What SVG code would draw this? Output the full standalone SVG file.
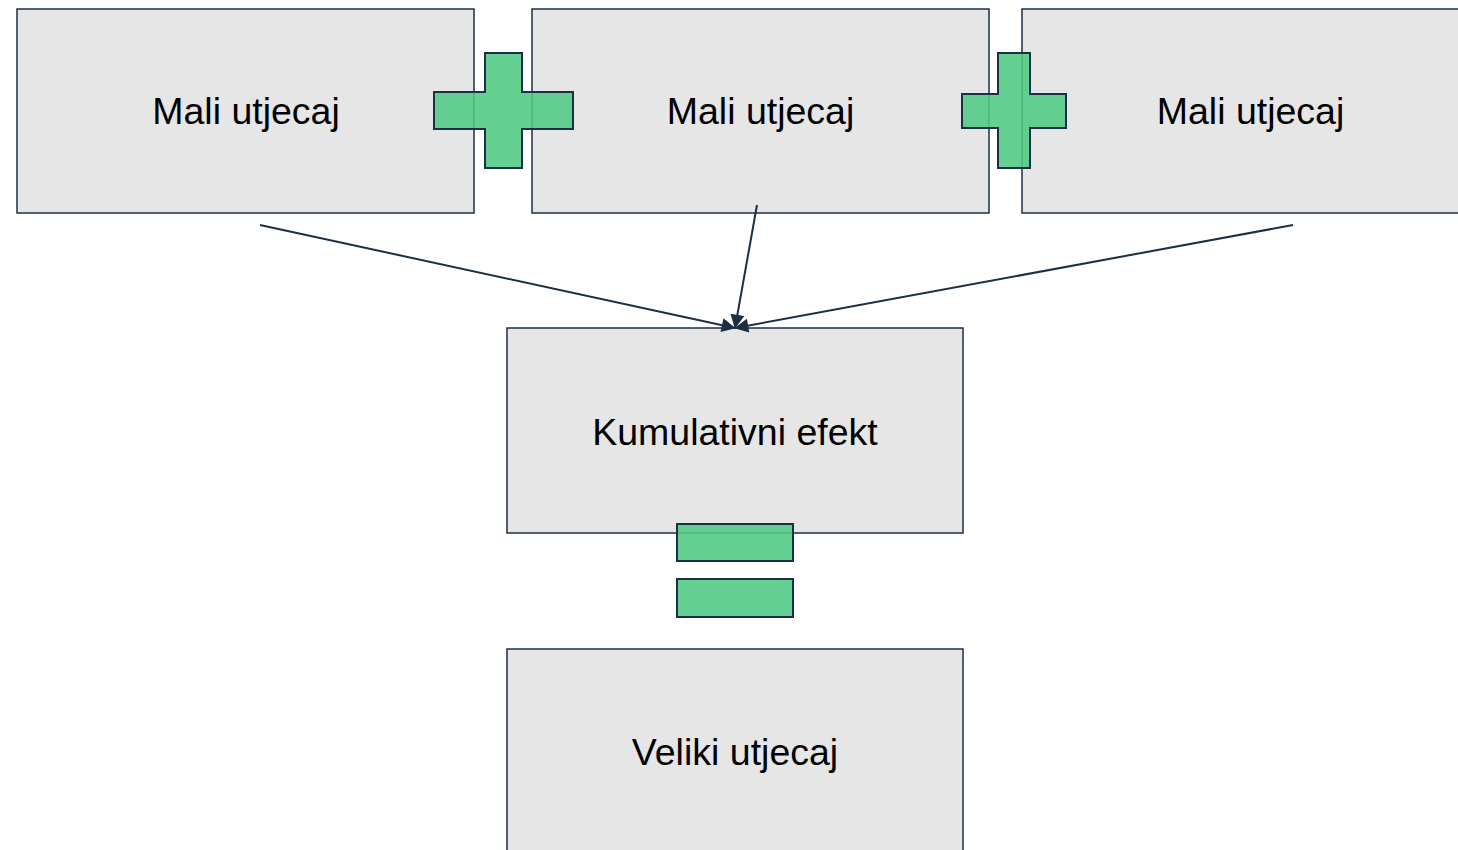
<svg xmlns="http://www.w3.org/2000/svg" width="1458" height="850" viewBox="0 0 1458 850">
<style>
.box{fill:#e6e6e6;stroke:#1b2f47;stroke-width:1.5}
.lbl{font-family:"Liberation Sans",Arial,sans-serif;font-size:37.5px;fill:#000;text-anchor:middle}
.sym{fill:#4fcb84;fill-opacity:0.88;stroke:#1b2f47;stroke-width:2}
.con{stroke:#1b2f47;stroke-width:2;fill:none;marker-end:url(#ah)}
</style>
<defs>
<marker id="ah" viewBox="0 0 10 10" refX="9.5" refY="5" markerWidth="16" markerHeight="14" markerUnits="userSpaceOnUse" orient="auto">
<path d="M0,0 L10,5 L0,10 z" fill="#1b2f47"/>
</marker>
</defs>
<rect width="1458" height="850" fill="#fff"/>
<g id="n1"><rect class="box" x="17" y="9" width="457" height="204"/><text class="lbl" x="246" y="124">Mali utjecaj</text></g>
<g id="n2"><rect class="box" x="532" y="9" width="457" height="204"/><text class="lbl" x="760.5" y="124">Mali utjecaj</text></g>
<g id="n3"><rect class="box" x="1022" y="9" width="457" height="204"/><text class="lbl" x="1250.5" y="124">Mali utjecaj</text></g>
<g id="n4"><rect class="box" x="507" y="328" width="456" height="205"/><text class="lbl" x="735" y="445">Kumulativni efekt</text></g>
<g id="n5"><rect class="box" x="507" y="649" width="456" height="210"/><text class="lbl" x="735" y="765">Veliki utjecaj</text></g>
<g id="plus1"><path class="sym" d="M485,53 H522 V92 H573 V129 H522 V168 H485 V129 H434 V92 H485 Z"/></g>
<g id="plus2"><path class="sym" d="M998,53 H1030 V94 H1066 V128 H1030 V168 H998 V128 H962 V94 H998 Z"/></g>
<g id="equals"><rect class="sym" x="677" y="524" width="116" height="37"/><rect class="sym" x="677" y="579" width="116" height="38"/></g>
<g id="connectors">
<line class="con" x1="260" y1="225" x2="735" y2="328"/>
<line class="con" x1="757" y1="205" x2="735" y2="328"/>
<line class="con" x1="1293" y1="225" x2="735" y2="328"/>
</g>
</svg>
